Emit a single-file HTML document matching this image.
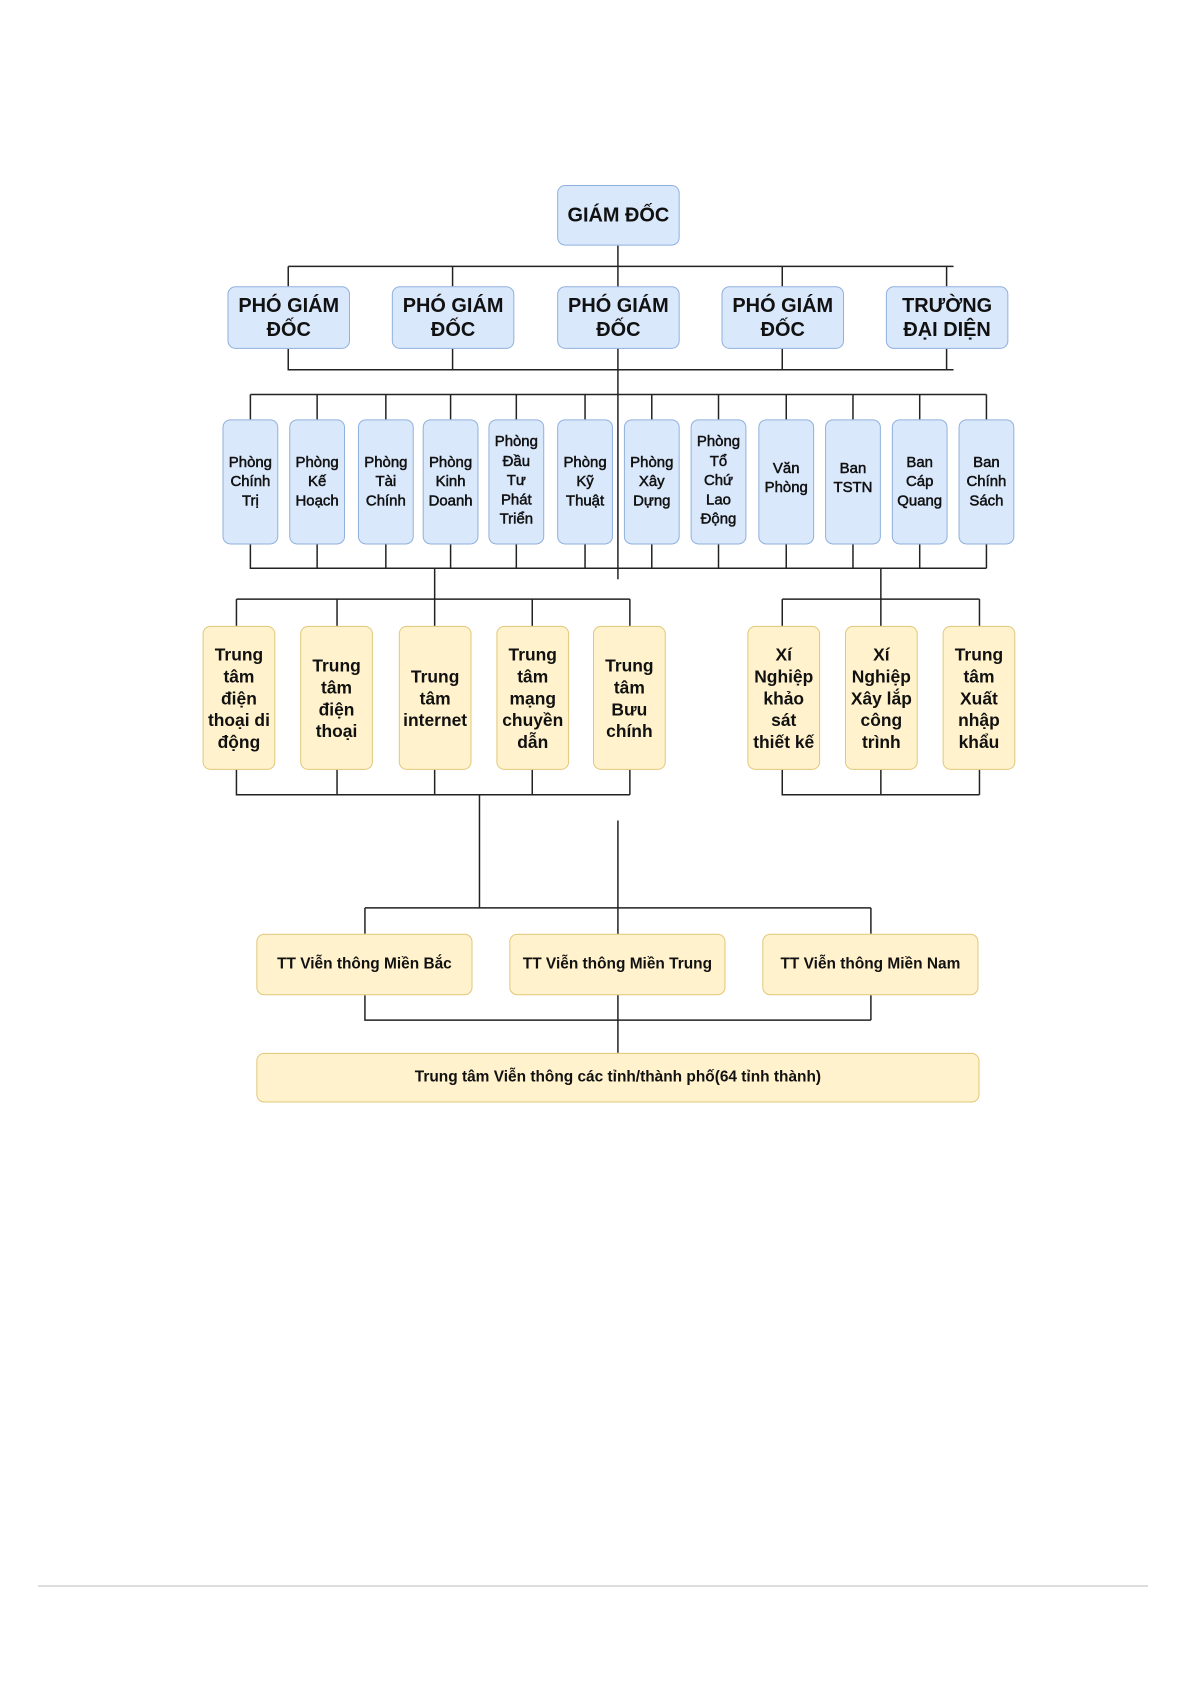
<!DOCTYPE html>
<html><head><meta charset="utf-8"><style>
body{margin:0;width:1191px;height:1685px;background:#fff;position:relative;overflow:hidden;font-family:"Liberation Sans","DejaVu Sans",sans-serif;}
#w{position:absolute;left:0;top:0;width:1191px;height:1685px;transform-origin:600px 186px;transform:translate(-3px,-1px) scale(0.996,0.993);}
.b{position:absolute;box-sizing:border-box;display:flex;align-items:center;justify-content:center;text-align:center;font-weight:bold;color:#111;border-radius:8px;}
.bl{background:#dae8fc;border:1.5px solid #8fb0dd;}
.y{background:#fff2cc;border:1.5px solid #e0c878;}
.l1{font-size:20px;line-height:24px;}
.l2{font-size:15px;line-height:19.5px;font-weight:normal;-webkit-text-stroke:0.5px #111;}
.l3{font-size:17.5px;line-height:22px;}
.l4{font-size:15.5px;}
svg{position:absolute;left:0;top:0;}
</style></head><body>
<svg width="1191" height="1685"><path d="M38 1586H1148" stroke="#bbb" stroke-width="1"/></svg>
<div id="w">
<svg width="1191" height="1685" stroke="#222" stroke-width="1.5" fill="none">
<path d="M621 247V583"/>
<path d="M290 268H958M290 268V288M455 268V288M786 268V288M951 268V288"/>
<path d="M290 351V372H958M455 351V372M786 351V372M951 351V372V372"/>
<path d="M252 397H991"/>
<path d="M252 397V422M319 397V422M388 397V422M453 397V422M519 397V422M588 397V422M655 397V422M722 397V422M790 397V422M857 397V422M924 397V422M991 397V422"/>
<path d="M252 548V572H991M319 548V572M388 548V572M453 548V572M519 548V572M588 548V572M655 548V572M722 548V572M790 548V572M857 548V572M924 548V572M991 548V572"/>
<path d="M437 572V603M238 603H633M238 603V630M339 603V630M437 603V630M535 603V630M633 603V630"/>
<path d="M238 775V800H633M339 775V800M437 775V800M535 775V800M633 775V800"/>
<path d="M885 572V603M786 603H984M786 603V630M885 603V630M984 603V630"/>
<path d="M786 775V800H984M885 775V800M984 775V800"/>
<path d="M482 800V914M367 914H875M367 914V940M875 914V940M621 826V1060"/>
<path d="M367 1002V1027H875M875 1002V1027"/>
</svg>
<div class="b bl l1" style="left:560px;top:186px;width:123px;height:61px">GIÁM ĐỐC</div>
<div class="b bl l1" style="left:229px;top:288px;width:123px;height:63px">PHÓ GIÁM<br>ĐỐC</div>
<div class="b bl l1" style="left:394px;top:288px;width:123px;height:63px">PHÓ GIÁM<br>ĐỐC</div>
<div class="b bl l1" style="left:560px;top:288px;width:123px;height:63px">PHÓ GIÁM<br>ĐỐC</div>
<div class="b bl l1" style="left:725px;top:288px;width:123px;height:63px">PHÓ GIÁM<br>ĐỐC</div>
<div class="b bl l1" style="left:890px;top:288px;width:123px;height:63px">TRƯỜNG<br>ĐẠI DIỆN</div>

<div class="b bl l2" style="left:224px;top:422px;width:56px;height:126px">Phòng<br>Chính<br>Trị</div>
<div class="b bl l2" style="left:291px;top:422px;width:56px;height:126px">Phòng<br>Kế<br>Hoạch</div>
<div class="b bl l2" style="left:360px;top:422px;width:56px;height:126px">Phòng<br>Tài<br>Chính</div>
<div class="b bl l2" style="left:425px;top:422px;width:56px;height:126px">Phòng<br>Kinh<br>Doanh</div>
<div class="b bl l2" style="left:491px;top:422px;width:56px;height:126px;align-items:flex-start;padding-top:12px">Phòng<br>Đầu<br>Tư<br>Phát<br>Triển</div>
<div class="b bl l2" style="left:560px;top:422px;width:56px;height:126px">Phòng<br>Kỹ<br>Thuật</div>
<div class="b bl l2" style="left:627px;top:422px;width:56px;height:126px">Phòng<br>Xây<br>Dựng</div>
<div class="b bl l2" style="left:694px;top:422px;width:56px;height:126px;align-items:flex-start;padding-top:12px">Phòng<br>Tổ<br>Chứ<br>Lao<br>Động</div>
<div class="b bl l2" style="left:762px;top:422px;width:56px;height:126px;padding-bottom:8px">Văn<br>Phòng</div>
<div class="b bl l2" style="left:829px;top:422px;width:56px;height:126px;padding-bottom:8px">Ban<br>TSTN</div>
<div class="b bl l2" style="left:896px;top:422px;width:56px;height:126px">Ban<br>Cáp<br>Quang</div>
<div class="b bl l2" style="left:963px;top:422px;width:56px;height:126px">Ban<br>Chính<br>Sách</div>

<div class="b y l3" style="left:204px;top:630px;width:73px;height:145px">Trung<br>tâm<br>điện<br>thoại di<br>động</div>
<div class="b y l3" style="left:302px;top:630px;width:73px;height:145px">Trung<br>tâm<br>điện<br>thoại</div>
<div class="b y l3" style="left:401px;top:630px;width:73px;height:145px">Trung<br>tâm<br>internet</div>
<div class="b y l3" style="left:499px;top:630px;width:73px;height:145px">Trung<br>tâm<br>mạng<br>chuyền<br>dẫn</div>
<div class="b y l3" style="left:596px;top:630px;width:73px;height:145px">Trung<br>tâm<br>Bưu<br>chính</div>
<div class="b y l3" style="left:751px;top:630px;width:73px;height:145px">Xí<br>Nghiệp<br>khảo<br>sát<br>thiết kế</div>
<div class="b y l3" style="left:849px;top:630px;width:73px;height:145px">Xí<br>Nghiệp<br>Xây lắp<br>công<br>trình</div>
<div class="b y l3" style="left:947px;top:630px;width:73px;height:145px">Trung<br>tâm<br>Xuất<br>nhập<br>khẩu</div>

<div class="b y l4" style="left:258px;top:940px;width:217px;height:62px">TT Viễn thông Miền Bắc</div>
<div class="b y l4" style="left:512px;top:940px;width:217px;height:62px">TT Viễn thông Miền Trung</div>
<div class="b y l4" style="left:766px;top:940px;width:217px;height:62px">TT Viễn thông Miền Nam</div>
<div class="b y l4" style="left:258px;top:1060px;width:726px;height:50px">Trung tâm Viễn thông các tỉnh/thành phố(64 tỉnh thành)</div>
</div>
</body></html>
